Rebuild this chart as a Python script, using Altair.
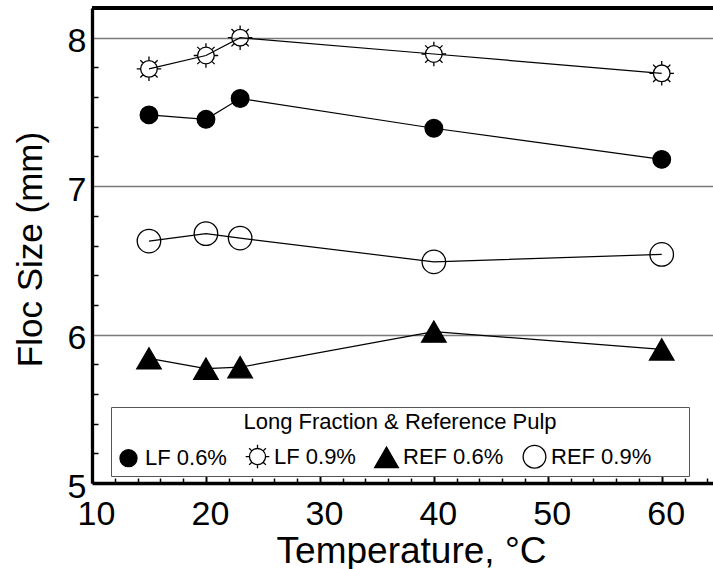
import altair as alt
import pandas as pd

FONT = "Liberation Sans"

SERIES = ["LF 0.6%", "LF 0.9%", "REF 0.6%", "REF 0.9%"]
TEMPS = [15, 20, 23, 40, 60]
LF06 = [7.48, 7.45, 7.59, 7.39, 7.18]
LF09 = [7.79, 7.88, 8.00, 7.89, 7.76]
REF06 = [5.84, 5.77, 5.78, 6.02, 5.90]
REF09 = [6.63, 6.68, 6.65, 6.49, 6.54]

X_MAJOR = [10, 20, 30, 40, 50, 60]
X_MINOR = list(range(10, 65, 2))
Y_MAJOR = [5, 6, 7, 8]
Y_MINOR = [5.2, 5.4, 5.6, 5.8, 6.2, 6.4, 6.6, 6.8, 7.2, 7.4, 7.6, 7.8]

W, H = 621, 475

rows = []
for name, vals in zip(SERIES, [LF06, LF09, REF06, REF09]):
    for t, v in zip(TEMPS, vals):
        rows.append({"series": name, "temp": t, "size": v})
df = pd.DataFrame(rows)

SMALL_DOT = "M0.72,0 A0.72,0.72 0 1,1 -0.72,0 A0.72,0.72 0 1,1 0.72,0 Z"
BIG_RING = "M0.96,0 A0.96,0.96 0 1,1 -0.96,0 A0.96,0.96 0 1,1 0.96,0 Z"
SUN = ("M0.68,0 A0.68,0.68 0 1,1 -0.68,0 A0.68,0.68 0 1,1 0.68,0 Z "
       "M0.68,0 L1,0 M-0.68,0 L-1,0 M0,0.68 L0,1 M0,-0.68 L0,-1 "
       "M0.481,0.481 L0.707,0.707 M-0.481,0.481 L-0.707,0.707 "
       "M0.481,-0.481 L0.707,-0.707 M-0.481,-0.481 L-0.707,-0.707")

XDOM = [10, 64.5]
YDOM = [5, 8.2]

PAD = "\u2800" * 2
legend = alt.Legend(
    title="Long Fraction & Reference Pulp", orient="none", legendX=19, legendY=399,
    direction="horizontal", columns=4, titleAnchor="middle", titleLimit=700,
    titleFont=FONT, titleFontSize=22, titleFontWeight="normal", titleColor="black",
    titlePadding=10, labelFont=FONT, labelFontSize=22, labelColor="black",
    labelOffset=4, columnPadding=16, symbolSize=560, symbolStrokeColor="black",
    symbolStrokeWidth=1.3, strokeColor="#555555", fillColor="white", padding=5,
    labelLimit=300,
    labelExpr="datum.label == 'REF 0.9%' ? datum.label + '" + PAD + "' : datum.label",
)

# tick-only axes (placed on the opposite side and pulled back over the plot edge,
# so that their ticks point into the plot)
lines = alt.Chart(df).mark_line(color="black", strokeWidth=1.2).encode(
    x=alt.X("temp:Q", scale=alt.Scale(domain=XDOM, nice=False, zero=False), title=None,
            axis=alt.Axis(orient="top", offset=-H, values=X_MINOR, labels=False,
                          domain=False, grid=False, tickColor="black",
                          tickSize={"condition": {"test": "datum.value % 10 == 0", "value": 10},
                                    "value": 5},
                          tickWidth={"condition": {"test": "datum.value % 10 == 0", "value": 2},
                                     "value": 1.5})),
    y=alt.Y("size:Q", scale=alt.Scale(domain=YDOM, nice=False, zero=False), title=None,
            axis=alt.Axis(orient="right", offset=-W, values=Y_MINOR, labels=False,
                          domain=False, grid=False, tickSize=6, tickColor="black",
                          tickWidth=1.5)),
    detail="series:N",
)

points = alt.Chart(df).mark_point(strokeWidth=1.3, opacity=1, size=600).encode(
    x=alt.X("temp:Q", scale=alt.Scale(domain=XDOM, nice=False, zero=False),
            title="Temperature,  °C",
            axis=alt.Axis(orient="bottom", values=X_MAJOR, grid=False,
                          domainColor="black", domainWidth=3.3, ticks=False,
                          labelFont=FONT, labelFontSize=34, labelColor="black",
                          labelPadding=14, labelOffset=4, labelFlush=False,
                          titleFont=FONT, titleFontSize=37, titleFontWeight="normal",
                          titleColor="black", titleBaseline="alphabetic",
                          titleX=319, titleY=79)),
    y=alt.Y("size:Q", scale=alt.Scale(domain=YDOM, nice=False, zero=False),
            title="Floc Size (mm)",
            axis=alt.Axis(orient="left", values=Y_MAJOR, grid=True, gridColor="#7a7a7a",
                          gridWidth=1.3, domainColor="black", domainWidth=3.3,
                          ticks=False, labelFont=FONT, labelFontSize=34,
                          labelColor="black", labelPadding=6, labelOffset=4,
                          labelFlush=False,
                          titleFont=FONT, titleFontSize=35, titleFontWeight="normal",
                          titleColor="black", titleBaseline="alphabetic",
                          titleX=-51, titleY=241)),
    shape=alt.Shape("series:N", scale=alt.Scale(domain=SERIES,
                                                range=[SMALL_DOT, SUN, "triangle-up", BIG_RING]),
                    legend=legend),
    fill=alt.Fill("series:N", scale=alt.Scale(domain=SERIES,
                                              range=["black", "transparent", "black", "transparent"]),
                  legend=legend),
    stroke=alt.Stroke("series:N", scale=alt.Scale(domain=SERIES,
                                                  range=["black", "black", "black", "black"]),
                      legend=legend),
)

top_border = alt.Chart(df).mark_rule(color="black", strokeWidth=4).encode(
    x=alt.value(0), x2=alt.value("width"), y=alt.value(0)
)

chart = alt.layer(lines, points, top_border).resolve_axis(
    x="independent", y="independent"
).properties(
    width=W, height=H,
    autosize=alt.AutoSizeParams(type="none"),
    padding={"left": 92, "top": 8, "right": 0, "bottom": 86},
).configure_view(stroke="transparent")

chart.save("out.html", embed_options={"renderer": "svg", "actions": False})
